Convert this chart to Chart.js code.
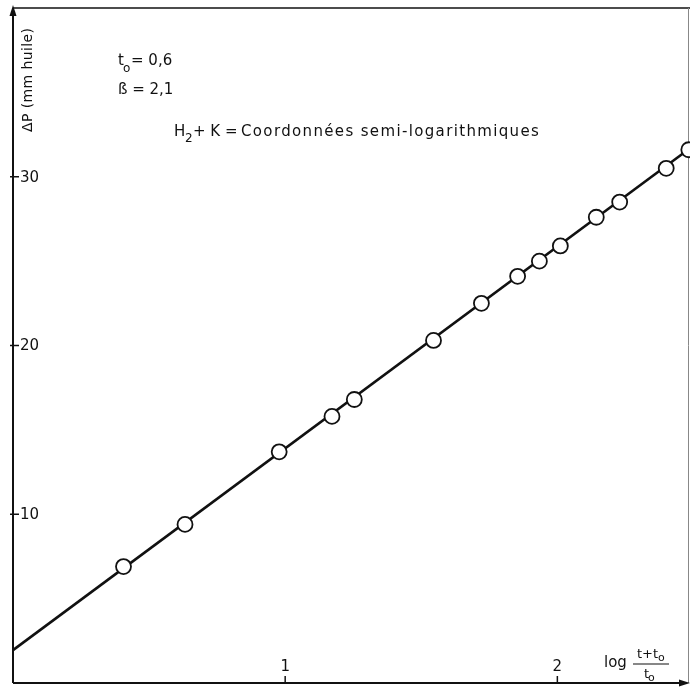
<!DOCTYPE html>
<html>
<head>
<meta charset="utf-8">
<script src="https://cdn.jsdelivr.net/npm/chart.js@4/dist/chart.umd.min.js"></script>
<style>
  html, body { margin: 0; padding: 0; background: #ffffff; }
  #wrap { width: 690px; height: 689px; position: relative; }
</style>
</head>
<body>
<div id="wrap"><canvas id="plot" width="690" height="689"></canvas></div>
<script>
// measured points: log((t+t0)/t0) against delta P (mm huile)
var logTime = [0.406, 0.632, 0.978, 1.172, 1.254, 1.545, 1.721, 1.854, 1.934, 2.011, 2.143, 2.229, 2.400, 2.483];
var deltaP = [6.9, 9.4, 13.7, 15.8, 16.8, 20.3, 22.5, 24.1, 25.0, 25.9, 27.6, 28.5, 30.5, 31.6];

// fitted straight line, two ends
var fitX = [0, 2.48];
var fitY = [1.95, 31.6];

var xTicks = [1, 2];
var yTicks = [10, 20, 30];

var FONT = "'DejaVu Sans', 'Liberation Sans', sans-serif";
var INK = "#111111";

function pairs(xs, ys) {
    return xs.map(function (x, i) { return { x: x, y: ys[i] }; });
}

// draw text so it spans roughly the given width (lettering on the figure is wide)
function spanText(ctx, text, x, y, width) {
    ctx.letterSpacing = "0px";
    var w = ctx.measureText(text).width;
    var gap = text.length > 1 ? Math.max(0, (width - w) / (text.length - 1)) : 0;
    ctx.letterSpacing = gap.toFixed(2) + "px";
    ctx.fillText(text, x, y);
    ctx.letterSpacing = "0px";
}

var axesPlugin = {
    id: "axesPlugin",
    beforeDatasetsDraw: function (chart) {
        var ctx = chart.ctx;
        var xs = chart.scales.x, ys = chart.scales.y;
        var x0 = xs.getPixelForValue(0);
        var y0 = ys.getPixelForValue(0);
        var top = chart.chartArea.top;
        var right = chart.chartArea.right;

        ctx.save();
        ctx.strokeStyle = INK;
        ctx.fillStyle = INK;

        // frame top and right
        ctx.lineWidth = 1.5;
        ctx.beginPath();
        ctx.moveTo(x0, top);
        ctx.lineTo(690, top);
        ctx.stroke();
        ctx.strokeStyle = "#888888";
        ctx.lineWidth = 1;
        ctx.beginPath();
        ctx.moveTo(right + 0.5, top);
        ctx.lineTo(right + 0.5, y0);
        ctx.stroke();

        // axes
        ctx.strokeStyle = INK;
        ctx.lineWidth = 2;
        ctx.beginPath();
        ctx.moveTo(x0, y0);
        ctx.lineTo(x0, top);
        ctx.moveTo(x0, y0);
        ctx.lineTo(684, y0);
        ctx.stroke();

        // arrow heads
        ctx.beginPath();
        ctx.moveTo(x0, top - 3);
        ctx.lineTo(x0 - 3.5, top + 8);
        ctx.lineTo(x0 + 3.5, top + 8);
        ctx.closePath();
        ctx.fill();
        ctx.beginPath();
        ctx.moveTo(690, y0);
        ctx.lineTo(679, y0 - 3.5);
        ctx.lineTo(679, y0 + 3.5);
        ctx.closePath();
        ctx.fill();

        // y ticks, labels inside
        ctx.font = "15px " + FONT;
        ctx.textBaseline = "middle";
        ctx.textAlign = "left";
        ctx.lineWidth = 1.5;
        yTicks.forEach(function (v) {
            var py = ys.getPixelForValue(v);
            ctx.beginPath();
            ctx.moveTo(x0 - 3, py);
            ctx.lineTo(x0 + 6, py);
            ctx.stroke();
            ctx.fillText(String(v), x0 + 7, py + 1);
        });

        // x ticks, labels above the axis
        ctx.textAlign = "center";
        ctx.textBaseline = "bottom";
        xTicks.forEach(function (v) {
            var px = xs.getPixelForValue(v);
            ctx.beginPath();
            ctx.moveTo(px, y0);
            ctx.lineTo(px, y0 - 7);
            ctx.stroke();
            ctx.fillText(String(v), px, y0 - 8);
        });

        // y axis title, rotated
        ctx.save();
        ctx.translate(x0 + 15, 132);
        ctx.rotate(-Math.PI / 2);
        ctx.textAlign = "left";
        ctx.textBaseline = "middle";
        ctx.font = "14px " + FONT;
        spanText(ctx, "\u0394P (mm huile)", 0, 0, 104);
        ctx.restore();

        // x axis title: log (t+t0)/t0
        ctx.textAlign = "left";
        ctx.textBaseline = "alphabetic";
        ctx.font = "15px " + FONT;
        ctx.fillText("log", 604, 667);
        ctx.font = "13px " + FONT;
        ctx.fillText("t+t", 637, 658);
        ctx.font = "11px " + FONT;
        ctx.fillText("o", 658, 661);
        ctx.lineWidth = 1.2;
        ctx.beginPath();
        ctx.moveTo(633, 664);
        ctx.lineTo(669, 664);
        ctx.stroke();
        ctx.font = "13px " + FONT;
        ctx.fillText("t", 644, 678);
        ctx.font = "11px " + FONT;
        ctx.fillText("o", 648, 681);

        // annotations
        ctx.font = "15px " + FONT;
        ctx.fillText("t", 118, 65);
        ctx.font = "12px " + FONT;
        ctx.fillText("o", 123, 72);
        ctx.font = "15px " + FONT;
        ctx.fillText("= 0,6", 131, 65);
        ctx.fillText("\u00df = 2,1", 118, 94);

        ctx.fillText("H", 174, 136);
        ctx.font = "12px " + FONT;
        ctx.fillText("2", 185, 142);
        ctx.font = "15px " + FONT;
        ctx.fillText("+ K =", 193, 136);
        spanText(ctx, "Coordonn\u00e9es semi-logarithmiques", 241, 136, 298);

        ctx.restore();
    }
};

var chart = new Chart(document.getElementById("plot").getContext("2d"), {
    type: "scatter",
    data: {
        datasets: [
            {
                label: "mesures",
                data: pairs(logTime, deltaP),
                order: 0,
                pointRadius: 7.5,
                pointBackgroundColor: "#ffffff",
                pointBorderColor: INK,
                pointBorderWidth: 1.8,
                showLine: false,
                clip: false
            },
            {
                label: "droite",
                data: pairs(fitX, fitY),
                order: 1,
                showLine: true,
                borderColor: INK,
                borderWidth: 2.6,
                pointRadius: 0,
                clip: false
            }
        ]
    },
    options: {
        responsive: false,
        animation: false,
        layout: { autoPadding: false, padding: { left: 13, right: 2, top: 8, bottom: 6 } },
        plugins: {
            legend: { display: false },
            tooltip: { enabled: false }
        },
        scales: {
            x: { type: "linear", min: 0, max: 2.48, display: false },
            y: { type: "linear", min: 0, max: 40, display: false }
        }
    },
    plugins: [axesPlugin]
});
</script>
</body>
</html>
